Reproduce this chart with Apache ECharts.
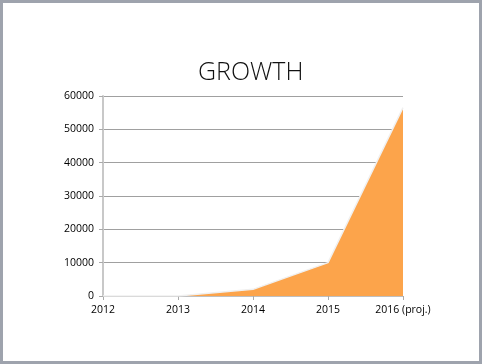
<!DOCTYPE html>
<html><head><meta charset="utf-8">
<script src="https://cdn.jsdelivr.net/npm/echarts@6/dist/echarts.min.js"></script>
<style>
html,body{margin:0;padding:0;background:#fff;}
#frame{position:absolute;left:0;top:0;width:476px;height:358px;border:3px solid #9ea3ad;background:#fff;}
#c{position:absolute;left:0;top:0;width:482px;height:364px;}
</style></head>
<body><div id="frame"></div><div id="c"></div>
<script>
const titleText = 'GROWTH';
const categories = ['2012', '2013', '2014', '2015', '2016 (proj.)'];
const values = [0, 0, 2000, 10000, 56500];
const yTicks = {min: 0, max: 60000, interval: 10000};

const chart = echarts.init(document.getElementById('c'), null, {renderer: 'canvas'});
chart.setOption({
  animation: false,
  title: {text: titleText, left: 193, top: 55,
    textStyle: {fontFamily: 'Open Sans', fontWeight: 300, fontSize: 25, color: '#111'}},
  grid: {left: 103, right: 79, top: 96, bottom: 68, containLabel: false},
  xAxis: {type: 'category', data: categories, boundaryGap: false,
    axisLine: {lineStyle: {color: '#bfbfbf', width: 1}},
    axisTick: {show: true, alignWithLabel: true, length: 4, lineStyle: {color: '#aaa'}},
    axisLabel: {color: '#000', fontFamily: 'Open Sans', fontSize: 10.5, margin: 9, interval: 0},
    splitLine: {show: false}},
  yAxis: {type: 'value', min: yTicks.min, max: yTicks.max, interval: yTicks.interval,
    axisLine: {show: true, lineStyle: {color: '#c8c8c8', width: 2}},
    axisTick: {show: true, length: 4, lineStyle: {color: '#aaa'}},
    axisLabel: {color: '#000', fontFamily: 'Open Sans', fontSize: 10.5, margin: 9,
      formatter: v => String(v)},
    splitLine: {lineStyle: {color: '#a0a0a0', width: 1}}},
  series: [{type: 'line', data: values, symbol: 'none',
    lineStyle: {color: '#f0f0f0', width: 1.5},
    areaStyle: {color: '#fca44b', opacity: 1}, z: 3}]
});
</script></body></html>
